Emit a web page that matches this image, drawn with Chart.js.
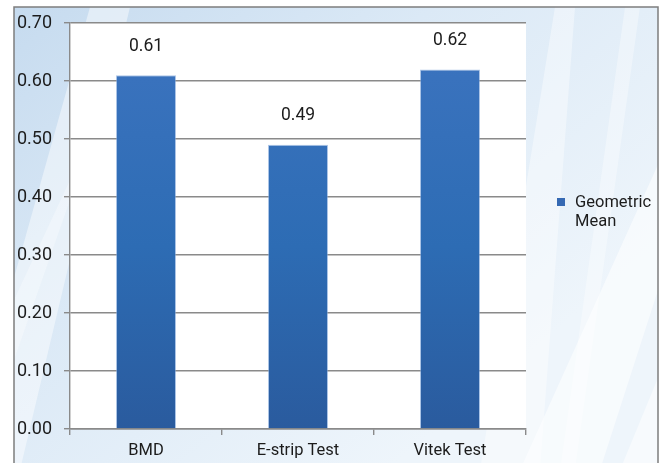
<!DOCTYPE html>
<html>
<head>
<meta charset="utf-8">
<script src="https://cdn.jsdelivr.net/npm/chart.js@4.4.1/dist/chart.umd.min.js"></script>
<style>
  html, body { margin: 0; padding: 0; background: #ffffff; }
  #wrap { width: 661px; height: 463px; position: relative; }
</style>
</head>
<body>
<div id="wrap"><canvas id="c" width="661" height="463"></canvas></div>
<script>
// Geometric mean by method
const categories = ['BMD', 'E-strip Test', 'Vitek Test'];
const geometricMean = [0.61, 0.49, 0.62];
const seriesName = ['Geometric', 'Mean'];
const yTicks = [0, 0.1, 0.2, 0.3, 0.4, 0.5, 0.6, 0.7];

const FONT = 'Roboto, "Liberation Sans", Arial, sans-serif';
const TEXT = '#1c1c1c';
const GRID = '#8a8a8a';

// Pale blue panel with soft white diagonal streaks, framed by a grey border
const panelBackground = {
  id: 'panelBackground',
  beforeDraw(chart) {
    const ctx = chart.ctx;
    const W = chart.width, H = chart.height;
    ctx.save();
    ctx.fillStyle = '#ffffff';
    ctx.fillRect(0, 0, W, H);
    const x0 = 14, y0 = 7, x1 = 658, y1 = H + 2;
    const g = ctx.createLinearGradient(x0, y0, x1 * 0.6, y1);
    g.addColorStop(0, '#c6dbef');
    g.addColorStop(0.45, '#dbe9f6');
    g.addColorStop(1, '#eef5fb');
    ctx.fillStyle = g;
    ctx.fillRect(x0, y0, x1 - x0, y1 - y0);
    ctx.beginPath();
    ctx.rect(x0, y0, x1 - x0, y1 - y0);
    ctx.clip();
    const streaks = [
      [[-40, 470], [20, 470], [130, 7], [90, 7], 0.45],
      [[520, 470], [600, 470], [700, 160], [660, 160], 0.55],
      [[560, 470], [575, 470], [640, 7], [625, 7], 0.35],
      [[480, 470], [540, 470], [575, 7], [555, 7], 0.40],
      [[620, 470], [660, 470], [700, 300], [690, 300], 0.5],
      [[14, 300], [14, 360], [70, 200], [70, 180], 0.3]
    ];
    streaks.forEach(s => {
      ctx.beginPath();
      ctx.moveTo(s[0][0], s[0][1]);
      ctx.lineTo(s[1][0], s[1][1]);
      ctx.lineTo(s[2][0], s[2][1]);
      ctx.lineTo(s[3][0], s[3][1]);
      ctx.closePath();
      ctx.fillStyle = 'rgba(255,255,255,' + s[4] + ')';
      ctx.fill();
    });
    ctx.restore();
    ctx.save();
    ctx.strokeStyle = '#7d7d7d';
    ctx.lineWidth = 1.5;
    ctx.strokeRect(x0, y0, x1 - x0, y1 - y0);
    // white plot area
    const a = chart.chartArea;
    ctx.fillStyle = '#ffffff';
    ctx.fillRect(a.left, a.top, a.right - a.left, a.bottom - a.top);
    ctx.restore();
  }
};

// Value labels above each bar and the legend entry on the right
const annotations = {
  id: 'annotations',
  afterDatasetsDraw(chart) {
    const ctx = chart.ctx;
    const meta = chart.getDatasetMeta(0);
    ctx.save();
    ctx.fillStyle = TEXT;
    ctx.font = '17.5px ' + FONT;
    ctx.textAlign = 'center';
    ctx.textBaseline = 'middle';
    meta.data.forEach((bar, i) => {
      ctx.fillText(geometricMean[i].toFixed(2), bar.x, bar.y - 29);
    });
    // legend
    ctx.fillStyle = '#3569b3';
    ctx.fillRect(557, 198, 8, 8);
    ctx.fillStyle = TEXT;
    ctx.font = '16.5px ' + FONT;
    ctx.textAlign = 'left';
    ctx.fillText(seriesName[0], 575, 203);
    ctx.fillText(seriesName[1], 575, 222);
    ctx.restore();
  }
};

const ctx = document.getElementById('c').getContext('2d');
new Chart(ctx, {
  type: 'bar',
  data: {
    labels: categories,
    datasets: [{
      label: seriesName.join(' '),
      data: geometricMean,
      backgroundColor(c) {
        const a = c.chart.chartArea;
        if (!a) return '#2f66ad';
        const g = c.chart.ctx.createLinearGradient(0, a.top, 0, a.bottom);
        g.addColorStop(0, '#3d74c0');
        g.addColorStop(0.55, '#2d6cb4');
        g.addColorStop(1, '#2a5b9e');
        return g;
      },
      borderColor: 'rgba(120,160,215,0.6)',
      borderWidth: 1,
      borderSkipped: 'bottom',
      categoryPercentage: 1,
      barPercentage: 0.395
    }]
  },
  options: {
    responsive: false,
    animation: false,
    layout: { padding: { left: 0, top: 23, right: 135, bottom: 0 } },
    plugins: {
      legend: { display: false },
      tooltip: { enabled: false }
    },
    scales: {
      x: {
        offset: true,
        grid: {
          offset: true,
          drawOnChartArea: false,
          drawTicks: true,
          tickLength: 6,
          color: GRID,
          lineWidth: 1.4
        },
        border: { display: true, color: GRID, width: 1.4 },
        ticks: {
          color: TEXT,
          font: { family: FONT, size: 16.5 },
          padding: 6
        },
        afterFit(scale) { scale.height = 34; }
      },
      y: {
        min: 0,
        max: 0.7,
        afterBuildTicks(scale) {
          scale.ticks = yTicks.map(v => ({ value: v }));
        },
        grid: {
          color: GRID,
          lineWidth: 1.4,
          tickLength: 6,
          drawTicks: true
        },
        border: { display: true, color: GRID, width: 1.4 },
        ticks: {
          color: TEXT,
          font: { family: FONT, size: 18 },
          padding: 12,
          callback: (v) => Number(v).toFixed(2)
        },
        afterFit(scale) { scale.width = 70; }
      }
    }
  },
  plugins: [panelBackground, annotations]
});
</script>
</body>
</html>
